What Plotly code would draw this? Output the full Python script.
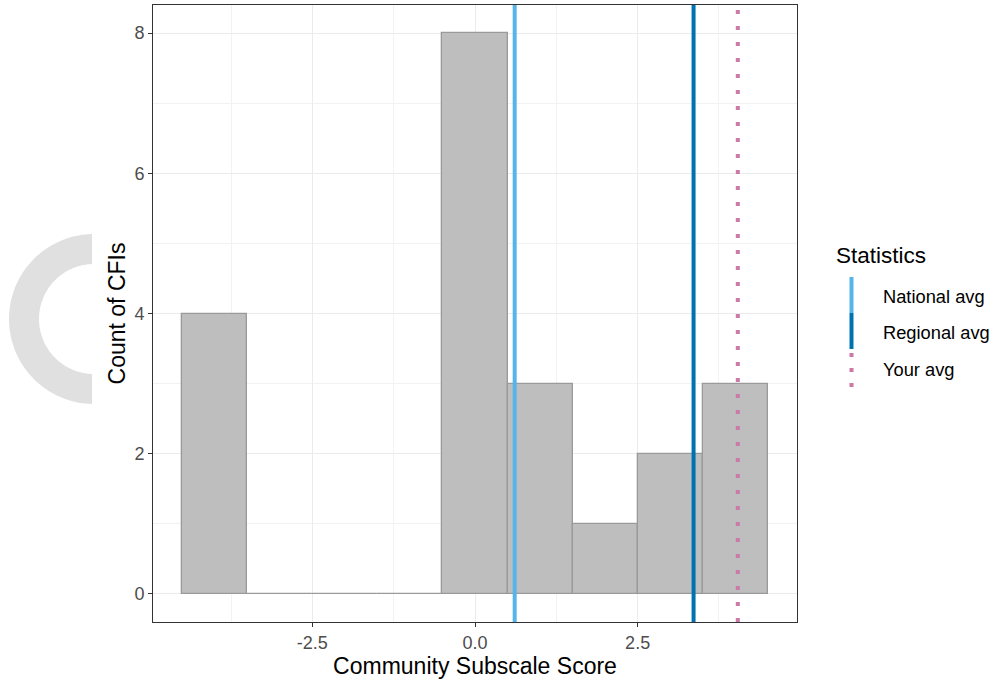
import numpy as np
import plotly.graph_objects as go

# ---- data ----
bin_centers = [-4, -3, -2, -1, 0, 1, 2, 3, 4]
bin_counts = [4, 0, 0, 0, 8, 3, 1, 2, 3]
bin_width = 1.0
stat_names = ["National avg", "Regional avg", "Your avg"]
stat_values = [0.61, 3.36, 4.04]
stat_colors = ["#56B4E9", "#0072B2", "#CC79A7"]
stat_dash = ["solid", "solid", "4px,12px"]
x_tickvals = [-2.5, 0.0, 2.5]
x_ticktext = ["-2.5", "0.0", "2.5"]
y_tickvals = [0, 2, 4, 6, 8]

W, H = 992, 679
L, R, T, B = 153, 195, 5, 57
pw, ph = W - L - R, H - T - B

def px2paper(px, py):
    return (px - L) / pw, (H - B - py) / ph

FONT = "Liberation Sans, Arial, sans-serif"

fig = go.Figure()
fig.add_trace(go.Bar(
    x=bin_centers, y=bin_counts, width=bin_width,
    marker=dict(color="#bebebe", line=dict(color="#9a9a9a", width=1.3)),
    showlegend=False, hoverinfo="x+y",
))

shapes = []
for v, c, d in zip(stat_values, stat_colors, stat_dash):
    shapes.append(dict(type="line", xref="x", yref="paper", x0=v, x1=v, y0=0, y1=1,
                       line=dict(color=c, width=4, dash=d), layer="above"))

# manual legend
ann = []
tx, ty = px2paper(834, 255)
ann.append(dict(text="Statistics", x=tx, y=ty, xref="paper", yref="paper",
                xanchor="left", yanchor="middle", showarrow=False,
                font=dict(family=FONT, size=22.5, color="black")))
key_y = [(277, 313), (313, 349), (349, 387)]
lab_y = [296, 332, 369]
for (ya, yb), ly, name, c, d in zip(key_y, lab_y, stat_names, stat_colors, stat_dash):
    x0, y0 = px2paper(851.5, ya)
    _, y1 = px2paper(851.5, yb)
    shapes.append(dict(type="line", xref="paper", yref="paper", x0=x0, x1=x0,
                       y0=y1 if d != "solid" else y0, y1=y0 if d != "solid" else y1,
                       line=dict(color=c, width=4, dash=d if d == "solid" else "4px,11px")))
    lx, lyp = px2paper(881, ly)
    ann.append(dict(text=name, x=lx, y=lyp, xref="paper", yref="paper",
                    xanchor="left", yanchor="middle", showarrow=False,
                    font=dict(family=FONT, size=18.3, color="black")))

# grey arc decoration at left
cx, cy, Ro, Ri, xcut = 94, 319, 85, 55, 92
ao = np.arccos((xcut - cx) / Ro)
ai = np.arccos((xcut - cx) / Ri)
th_o = np.linspace(ao, 2 * np.pi - ao, 80)
th_i = np.linspace(2 * np.pi - ai, ai, 80)
pts = [(cx + Ro * np.cos(t), cy - Ro * np.sin(t)) for t in th_o]
pts += [(cx + Ri * np.cos(t), cy - Ri * np.sin(t)) for t in th_i]
path = ""
for i, (px, py) in enumerate(pts):
    a, b = px2paper(px, py)
    path += ("M" if i == 0 else "L") + f"{a:.5f},{b:.5f}"
path += "Z"
shapes.append(dict(type="path", xref="paper", yref="paper", path=path,
                   fillcolor="#e0e0e0", line=dict(width=0), layer="above"))

fig.update_layout(
    width=W, height=H, margin=dict(l=L, r=R, t=T, b=B, pad=0),
    plot_bgcolor="white", paper_bgcolor="white",
    font=dict(family=FONT, color="black"),
    shapes=shapes, annotations=ann, showlegend=False, bargap=0,
)
axis_common = dict(showline=True, mirror=True, linecolor="#333333", linewidth=1,
                   ticks="outside", ticklen=4, tickcolor="#333333", tickwidth=1,
                   showgrid=True, gridcolor="#ebebeb", gridwidth=1.3, zeroline=False,
                   tickfont=dict(family=FONT, size=18, color="#4d4d4d"))
fig.update_xaxes(range=[-4.95, 4.95], tickvals=x_tickvals, ticktext=x_ticktext,
                 minor=dict(tickvals=[-3.75, -1.25, 1.25, 3.75], showgrid=True,
                            gridcolor="#f2f2f2", gridwidth=0.8, ticks=""),
                 title=dict(text="Community Subscale Score", standoff=4,
                            font=dict(family=FONT, size=23, color="black")),
                 **axis_common)
fig.update_yaxes(range=[-0.4, 8.4], tickvals=y_tickvals,
                 minor=dict(tickvals=[1, 3, 5, 7], showgrid=True,
                            gridcolor="#f2f2f2", gridwidth=0.8, ticks=""),
                 title=dict(text="Count of CFIs", standoff=2,
                            font=dict(family=FONT, size=23, color="black")),
                 **axis_common)

fig.write_html("out.html", post_script="document.body.style.margin='0';",
               config={"displayModeBar": False})
